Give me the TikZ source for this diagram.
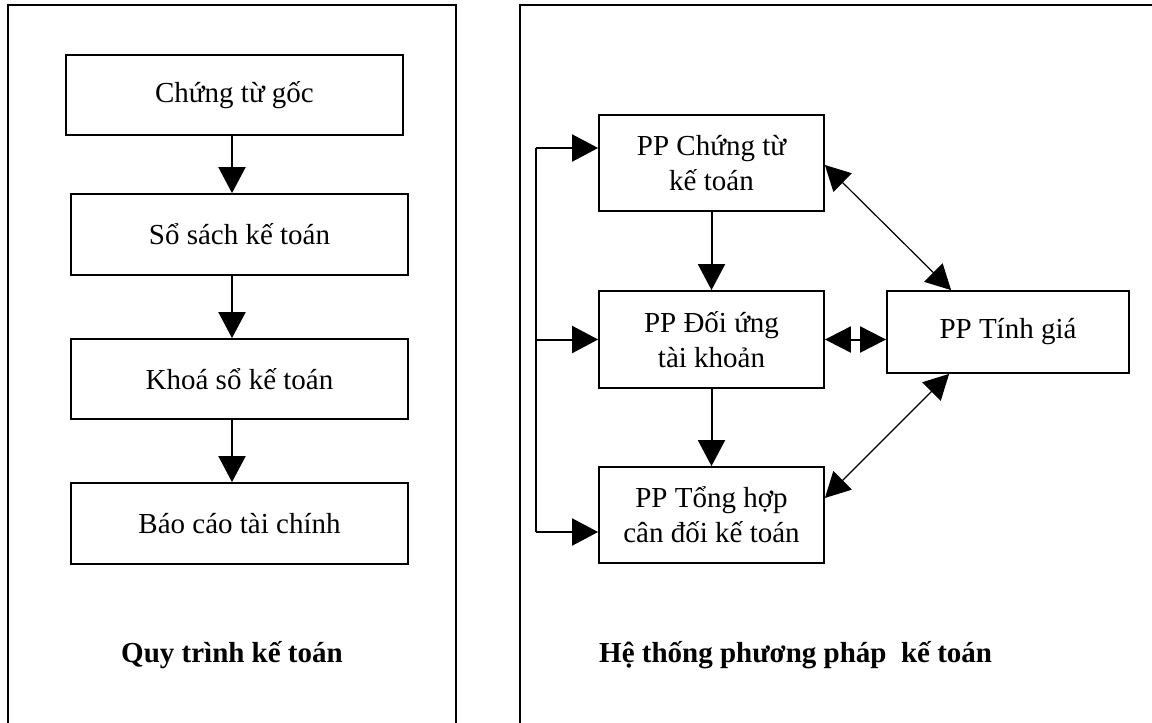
\documentclass[tikz,border=0pt]{standalone}
\usepackage{fontspec}
\setmainfont{Liberation Serif}
\usetikzlibrary{arrows.meta,calc}
\begin{document}
\begin{tikzpicture}[x=1pt,y=-1pt,
  box/.style={draw,line width=1.8pt,inner sep=0pt,align=center,font=\fontsize{29}{35}\selectfont},
  frameline/.style={line width=2pt},
  link/.style={line width=2pt,-{Triangle[length=26pt,width=27pt]}},
  biglink/.style={line width=2pt,{Triangle[length=26pt,width=26pt]}-{Triangle[length=26pt,width=26pt]}},
  thinlink/.style={line width=1.2pt,{Triangle[length=25pt,width=26pt]}-{Triangle[length=25pt,width=26pt]}},
  titletext/.style={font=\fontsize{29}{35}\selectfont\bfseries,inner sep=0pt}]
\useasboundingbox (0,0) rectangle (1152,723);
% panel frames
\draw[frameline] (8,723) -- (8,5) -- (456,5) -- (456,723);
\draw[frameline] (520,723) -- (520,5) -- (1152,5);
% left panel boxes
\node[box,minimum width=337pt,minimum height=80pt] (b1) at (234.5,95) {Chứng từ gốc};
\node[box,minimum width=337pt,minimum height=81pt] (b2) at (239.5,234.5) {Sổ sách kế toán};
\node[box,minimum width=337pt,minimum height=80pt] (b3) at (239.5,379) {Khoá sổ kế toán};
\node[box,minimum width=337pt,minimum height=81pt] (b4) at (239.5,523.5) {Báo cáo tài chính};
\coordinate (ax) at (232,0);
\draw[link] (b1.south -| ax) -- (b2.north -| ax);
\draw[link] (b2.south -| ax) -- (b3.north -| ax);
\draw[link] (b3.south -| ax) -- (b4.north -| ax);
\node[titletext] (t1) at (232,655) {Quy trình kế toán};
% right panel boxes
\node[box,minimum width=225pt,minimum height=96pt] (A) at (711.5,163) {PP Chứng từ\\kế toán};
\node[box,minimum width=225pt,minimum height=97pt] (B) at (711.5,339.5) {PP Đối ứng\\tài khoản};
\node[box,minimum width=225pt,minimum height=96pt] (C) at (711.5,515) {PP Tổng hợp\\cân đối kế toán};
\node[box,minimum width=242pt,minimum height=82pt] (D) at (1008,332) {PP Tính giá};
\draw[link] (A.south) -- (B.north);
\draw[link] (B.south) -- (C.north);
% bracket on the left
\coordinate (ya) at (536,148);
\coordinate (yb) at (536,339.5);
\coordinate (yc) at (536,532);
\draw[frameline] (ya) -- (yc);
\draw[link] (ya) -- (ya -| A.west);
\draw[link] (yb) -- (yb -| B.west);
\draw[link] (yc) -- (yc -| C.west);
% links to PP Tinh gia
\draw[biglink] (B.east) -- (B.east -| D.west);
\draw[thinlink] ($(A.east)+(0,2)$) -- ($(D.north west)+(65,0)$);
\draw[thinlink] ($(D.south west)+(63,0)$) -- ($(C.east)+(0,-17)$);
\node[titletext,anchor=west] (t2) at (599,655) {Hệ thống phương pháp\ \ kế toán};
\end{tikzpicture}
\end{document}
